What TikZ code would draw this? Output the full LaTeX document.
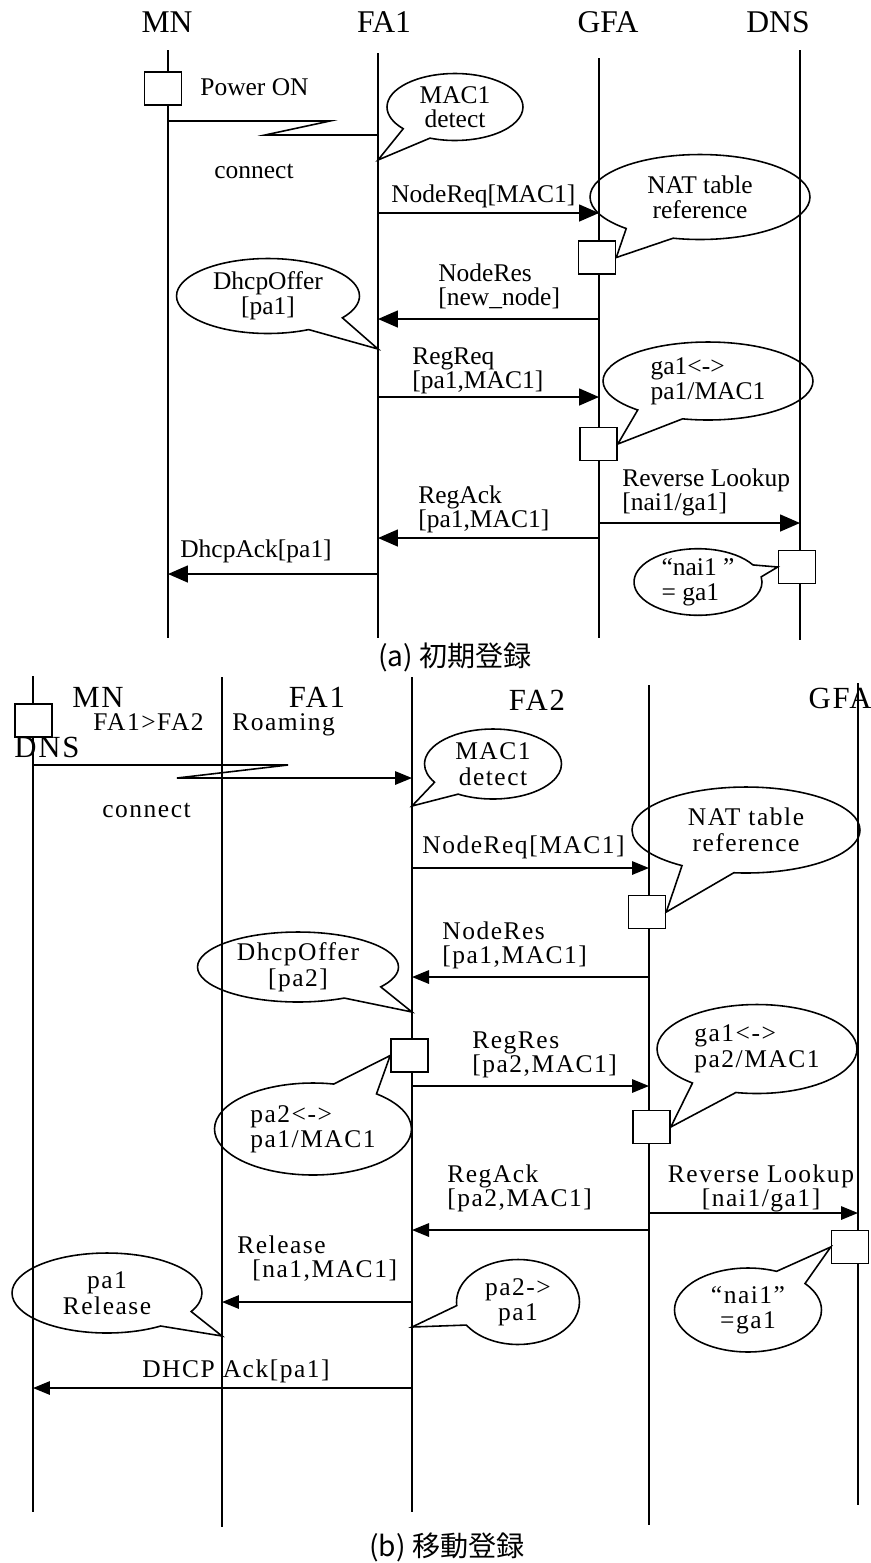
\documentclass[tikz,border=0pt]{standalone}
\usepackage{fontspec}
\setmainfont{Liberation Serif}
\newfontfamily\widefont[LetterSpace=6]{Liberation Serif}
\newfontfamily\jpfont{Noto Sans CJK JP}
\usetikzlibrary{arrows.meta, shapes.callouts, positioning, calc}

\begin{document}
\begin{tikzpicture}[
    x=0.02cm, y=-0.02cm,
    life/.style={line width=0.9pt},
    msg/.style={line width=0.9pt, -{Triangle[length=0.4cm, width=0.34cm]}},
    msgB/.style={line width=0.9pt, -{Triangle[length=0.34cm, width=0.27cm]}},
    actbox/.style={rectangle, draw, fill=white, line width=0.9pt, minimum width=0.74cm, minimum height=0.66cm, inner sep=0pt},
    bubble/.style={ellipse callout, draw, line width=0.9pt, inner sep=0pt, callout pointer arc=28, align=center, font={\fontsize{14.5}{14}\selectfont\lineskiplimit=-10pt}},
    bubbleB/.style={bubble, font={\widefont\fontsize{14.5}{14.5}\selectfont\lineskiplimit=-10pt}},
    hdr/.style={anchor=base, inner sep=0pt, font=\fontsize{18}{20}\selectfont},
    hdrB/.style={hdr, font=\widefont\fontsize{17.5}{20}\selectfont},
    lbl/.style={anchor=base west, inner sep=0pt, align=left, font={\fontsize{14.5}{13.5}\selectfont\lineskiplimit=-10pt}},
    lblB/.style={lbl, font={\widefont\fontsize{14.5}{13.5}\selectfont\lineskiplimit=-10pt}},
    capt/.style={inner sep=0pt, font=\jpfont\fontsize{16}{18}\selectfont}
]
    \useasboundingbox (0,0) rectangle (870,1563);

    % (a) initial registration: lifelines
    \coordinate (mnA) at (168,50);    \coordinate (mnAend) at (168,638);
    \coordinate (fa1A) at (378,53);   \coordinate (fa1Aend) at (378,638);
    \coordinate (gfaA) at (599,58);   \coordinate (gfaAend) at (599,638);
    \coordinate (dnsA) at (800,50);   \coordinate (dnsAend) at (800,640);
    \foreach \ll in {mnA, fa1A, gfaA, dnsA}
        \draw[life] (\ll) -- (\ll end);

    \node[hdr] (mnAhead) at (167,32) {MN};
    \node[hdr] (fa1Ahead) at (384,32) {FA1};
    \node[hdr] (gfaAhead) at (608,32) {GFA};
    \node[hdr] (dnsAhead) at (778,32) {DNS};

    \node[actbox] (mnAbox) at (163,88.5) {};
    \node[actbox] (gfaAbox1) at (597,257.5) {};
    \node[actbox] (gfaAbox2) at (598.5,444) {};
    \node[actbox] (dnsAbox) at (797,567) {};

    \node[lbl] (powerA) at (200,95) {Power ON};
    \draw[life] (mnA |- 0,121) -- (330,121) -- (265,135) -- (fa1A |- 0,135);
    \node[lbl] (connA) at (214,178) {connect};

    % messages (labels sit on the baseline of their last line)
    \draw[msg] (fa1A |- 0,213) -- (gfaA |- 0,213);
    \node[lbl] (nreqA) at (391,202) {NodeReq[MAC1]};
    \draw[msg] (gfaA |- 0,319) -- (fa1A |- 0,319);
    \node[lbl] (nresA) at (438,305) {NodeRes\\{}[new\_node]};
    \draw[msg] (fa1A |- 0,397) -- (gfaA |- 0,397);
    \node[lbl] (rreqA) at (412,388) {RegReq\\{}[pa1,MAC1]};
    \draw[msg] (gfaA |- 0,523) -- (dnsA |- 0,523);
    \node[lbl] (revA) at (622,510) {Reverse Lookup\\{}[nai1/ga1]};
    \draw[msg] (gfaA |- 0,538) -- (fa1A |- 0,538);
    \node[lbl] (rackA) at (418,527) {RegAck\\{}[pa1,MAC1]};
    \draw[msg] (fa1A |- 0,574) -- (mnA |- 0,574);
    \node[lbl] (dackA) at (180,557) {DhcpAck[pa1]};

    % callouts
    \node[bubble, minimum width=2.72cm, minimum height=1.34cm, callout absolute pointer={(fa1A |- 0,160)}] (macA) at (455,107) {MAC1\\detect};
    \node[bubble, minimum width=4.4cm, minimum height=1.7cm, callout absolute pointer={(gfaAbox1.east)}] (natA) at (700,197) {NAT table\\reference};
    \node[bubble, minimum width=3.66cm, minimum height=1.5cm, callout absolute pointer={(fa1A |- 0,349)}] (offerA) at (268,296) {DhcpOffer\\{}[pa1]};
    \node[bubble, align=left, minimum width=4.2cm, minimum height=1.56cm, callout absolute pointer={(gfaAbox2.east)}] (bindA) at (708,381) {ga1<->\\pa1/MAC1};
    \node[bubble, align=left, callout pointer arc=22, minimum width=2.56cm, minimum height=1.18cm, callout absolute pointer={(dnsAbox.west)}] (naiA) at (698,582) {“nai1 ”\\= ga1};

    \node[capt] (capA) at (455,657) {(a) 初期登録};

    % (b) roaming registration: lifelines
    \coordinate (mnB) at (33,676);    \coordinate (mnBend) at (33,1512);
    \coordinate (fa1B) at (222,677);  \coordinate (fa1Bend) at (222,1527);
    \coordinate (fa2B) at (412,677);  \coordinate (fa2Bend) at (412,1512);
    \coordinate (gfaB) at (649,685);  \coordinate (gfaBend) at (649,1525);
    \coordinate (dnsB) at (858,683);  \coordinate (dnsBend) at (858,1505);
    \foreach \ll in {mnB, fa1B, fa2B, gfaB, dnsB}
        \draw[life] (\ll) -- (\ll end);

    \node[actbox] (mnBbox) at (33.5,720.5) {};
    \node[actbox] (gfaBbox1) at (647,912) {};
    \node[actbox] (fa2Bbox) at (409.5,1055.5) {};
    \node[actbox] (gfaBbox2) at (651.5,1127) {};
    \node[actbox] (dnsBbox) at (850,1247) {};

    \node[hdrB] (mnBhead) at (98,707) {MN};
    \node[hdrB] (fa1Bhead) at (317,707) {FA1};
    \node[hdrB] (fa2Bhead) at (537,710) {FA2};
    \node[hdrB] (gfaBhead) at (840,708) {GFA};
    \node[hdrB] (dnsBhead) at (47,757) {DNS};

    \node[lblB] (moveB) at (93,730) {FA1>FA2};
    \node[lblB] (roamB) at (232,730) {Roaming};
    \draw[msgB] (mnB |- 0,765) -- (288,765) -- (177,778) -- (fa2B |- 0,778);
    \node[lblB] (connB) at (102,817) {connect};

    % messages
    \draw[msgB] (fa2B |- 0,868) -- (gfaB |- 0,868);
    \node[lblB] (nreqB) at (422,853) {NodeReq[MAC1]};
    \draw[msgB] (gfaB |- 0,977) -- (fa2B |- 0,977);
    \node[lblB] (nresB) at (442,963) {NodeRes\\{}[pa1,MAC1]};
    \draw[msgB] (fa2B |- 0,1086) -- (gfaB |- 0,1086);
    \node[lblB] (rresB) at (472,1072) {RegRes\\{}[pa2,MAC1]};
    \draw[msgB] (gfaB |- 0,1213) -- (dnsB |- 0,1213);
    \node[lblB, anchor=base, align=center] (revB) at (761,1206) {Reverse Lookup\\{}[nai1/ga1]};
    \draw[msgB] (gfaB |- 0,1230) -- (fa2B |- 0,1230);
    \node[lblB] (rackB) at (447,1206) {RegAck\\{}[pa2,MAC1]};
    \draw[msgB] (fa2B |- 0,1302) -- (fa1B |- 0,1302);
    \node[lblB] (relB) at (237,1277) {Release\\\hspace*{0.3cm}[na1,MAC1]};
    \draw[msgB] (fa2B |- 0,1388) -- (mnB |- 0,1388);
    \node[lblB] (dackB) at (142,1377) {DHCP Ack[pa1]};

    % callouts
    \node[bubbleB, minimum width=2.74cm, minimum height=1.4cm, callout absolute pointer={(fa2B |- 0,806)}] (macB) at (493,764) {MAC1\\detect};
    \node[bubbleB, minimum width=4.56cm, minimum height=1.72cm, callout absolute pointer={(gfaBbox1.east)}] (natB) at (746,830) {NAT table\\reference};
    \node[bubbleB, minimum width=4.02cm, minimum height=1.4cm, callout absolute pointer={(fa2B |- 0,1012)}] (offerB) at (298,967) {DhcpOffer\\{}[pa2]};
    \node[bubbleB, align=left, minimum width=3.94cm, minimum height=1.84cm, callout absolute pointer={(fa2Bbox.west)}] (pabindB) at (313,1129) {pa2<->\\pa1/MAC1};
    \node[bubbleB, align=left, minimum width=4cm, minimum height=1.78cm, callout absolute pointer={(gfaBbox2.east)}] (gabindB) at (757,1049) {ga1<->\\pa2/MAC1};
    \node[bubbleB, minimum width=2.94cm, minimum height=1.68cm, callout absolute pointer={(dnsBbox.west)}] (naiB) at (748,1310) {“nai1”\\=ga1};
    \node[bubbleB, minimum width=2.46cm, minimum height=1.7cm, callout absolute pointer={(fa2B |- 0,1327)}] (swapB) at (518,1302) {pa2->\\pa1};
    \node[bubbleB, minimum width=3.8cm, minimum height=1.6cm, callout absolute pointer={(fa1B |- 0,1336)}] (freeB) at (107,1293) {pa1\\Release};

    \node[capt] (capB) at (447,1547) {(b) 移動登録};
\end{tikzpicture}
\end{document}
